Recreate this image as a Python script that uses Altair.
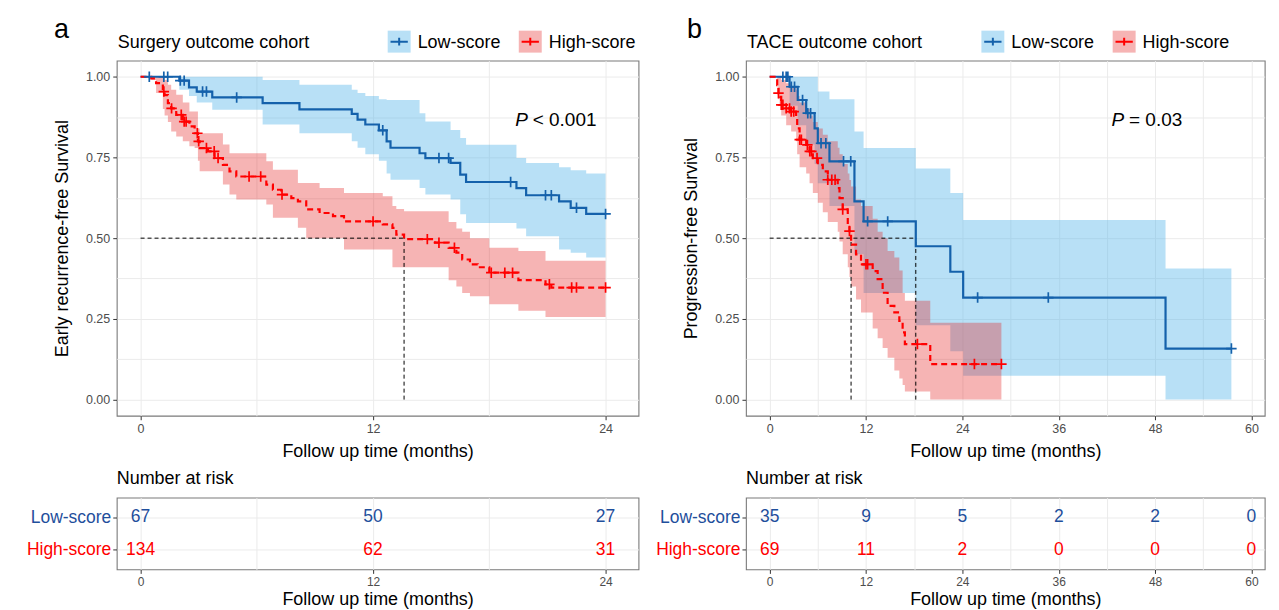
import altair as alt
import pandas as pd

FONT = "Liberation Sans"
GROUPS = ["Low-score", "High-score"]
LINE_COLORS = ["#1461ab", "#ff0000"]
TABLE_COLORS = ["#1f4f9c", "#ff0000"]
BAND_COLORS = ["#56B4E9", "#e41a1c"]
BAND_OPACITY = [0.42, 0.33]
CROSS = "M-1,0L1,0M0,-1L0,1"

# ---------------- panel a : Surgery outcome cohort ----------------
a_low_t = [0, 2.0, 2.5, 2.9, 3.7, 6.3, 8.2, 10.9, 11.2, 11.6, 12.3, 12.7, 12.9, 14.4, 14.7,
           16.0, 16.5, 16.8, 19.4, 19.9, 21.6, 22.2, 23.0, 24.0]
a_low_s = [1.0, 0.988, 0.967, 0.954, 0.936, 0.918, 0.899, 0.885, 0.867, 0.852, 0.834, 0.800,
           0.780, 0.763, 0.748, 0.733, 0.697, 0.674, 0.655, 0.633, 0.614, 0.594, 0.575, 0.575]
a_low_hi = [1.0, 1.0, 1.0, 1.0, 1.0, 0.99, 0.975, 0.96, 0.95, 0.94, 0.93, 0.928, 0.928, 0.887,
            0.861, 0.835, 0.81, 0.789, 0.748, 0.733, 0.72, 0.71, 0.70, 0.70]
a_low_lo = [1.0, 0.96, 0.94, 0.92, 0.898, 0.852, 0.825, 0.80, 0.78, 0.76, 0.74, 0.70, 0.681,
            0.655, 0.635, 0.62, 0.574, 0.547, 0.53, 0.506, 0.465, 0.455, 0.44, 0.44]
a_low_cens = [0.45, 1.2, 1.4, 2.05, 2.25, 3.2, 3.4, 4.96, 12.5, 15.4, 15.9, 19.1, 20.9, 21.2,
              22.5, 24.0]

a_high_t = [0, 0.55, 0.8, 1.15, 1.24, 1.41, 1.58, 1.84, 2.18, 2.52, 2.79, 2.96, 3.05, 3.48,
            3.82, 4.25, 4.59, 4.94, 6.49, 6.83, 7.26, 7.78, 8.12, 8.55, 9.24, 9.93, 10.5, 12.5,
            13.0, 13.2, 13.6, 15.2, 15.9, 16.3, 16.6, 17.0, 17.4, 18.0, 19.5, 20.9, 21.2, 24.0]
a_high_s = [1.0, 0.995, 0.98, 0.954, 0.943, 0.918, 0.902, 0.882, 0.861, 0.846, 0.825, 0.80,
            0.779, 0.769, 0.748, 0.727, 0.707, 0.691, 0.666, 0.65, 0.635, 0.624, 0.614, 0.589,
            0.578, 0.568, 0.552, 0.543, 0.532, 0.511, 0.497, 0.486, 0.47, 0.455, 0.434, 0.419,
            0.41, 0.393, 0.37, 0.357, 0.347, 0.347]
a_high_hi = [1.0, 1.0, 1.0, 1.0, 0.99, 0.975, 0.96, 0.944, 0.92, 0.892, 0.892, 0.84, 0.825,
             0.825, 0.825, 0.79, 0.763, 0.763, 0.738, 0.712, 0.712, 0.712, 0.671, 0.671, 0.655,
             0.655, 0.64, 0.63, 0.60, 0.59, 0.583, 0.583, 0.55, 0.53, 0.52, 0.50, 0.50, 0.47,
             0.46, 0.43, 0.43, 0.43]
a_high_lo = [1.0, 0.99, 0.95, 0.90, 0.88, 0.86, 0.83, 0.815, 0.80, 0.785, 0.779, 0.74, 0.707,
             0.707, 0.707, 0.666, 0.635, 0.62, 0.604, 0.563, 0.563, 0.563, 0.532, 0.50, 0.50,
             0.50, 0.465, 0.465, 0.41, 0.41, 0.41, 0.41, 0.37, 0.35, 0.33, 0.32, 0.32, 0.295,
             0.275, 0.256, 0.256, 0.256]
a_high_cens = [1.2, 1.6, 2.1, 2.25, 2.35, 2.93, 3.0, 3.4, 3.8, 4.0, 5.6, 6.2, 7.3, 12.0, 14.8,
               15.4, 16.2, 18.1, 18.8, 19.2, 21.1, 22.25, 22.5, 24.0]
a_median_x = [13.6]

a_risk_t = [0, 12, 24]
a_risk_low = [67, 50, 27]
a_risk_high = [134, 62, 31]

# ---------------- panel b : TACE outcome cohort ----------------
b_low_t = [0, 2.48, 3.5, 4.55, 5.6, 6.0, 7.45, 10.56, 11.7, 18.2, 22.5, 24.1, 49.3, 57.5]
b_low_s = [1.0, 0.969, 0.928, 0.887, 0.84, 0.794, 0.738, 0.614, 0.552, 0.475, 0.396, 0.316,
           0.158, 0.158]
b_low_hi = [1.0, 1.0, 1.0, 1.0, 1.0, 0.954, 0.93, 0.83, 0.779, 0.716, 0.64, 0.556, 0.406, 0.406]
b_low_lo = [1.0, 0.91, 0.85, 0.79, 0.73, 0.67, 0.60, 0.45, 0.33, 0.23, 0.15, 0.074, 0.0, 0.0]
b_low_cens = [1.65, 2.06, 2.27, 2.7, 3.1, 4.1, 4.75, 5.1, 6.4, 7.0, 9.2, 10.1, 12.2, 14.7, 25.9,
              34.7, 57.5]

b_high_t = [0, 0.94, 1.1, 1.24, 1.44, 2.06, 2.68, 3.3, 3.43, 3.73, 4.55, 4.97, 5.38, 6.0, 6.62,
            7.24, 8.48, 8.7, 9.1, 9.73, 9.94, 10.14, 10.76, 11.38, 12.83, 13.45, 14.07, 14.69,
            15.53, 16.15, 16.56, 16.84, 20.0, 28.86]
b_high_s = [1.0, 0.974, 0.949, 0.938, 0.913, 0.902, 0.892, 0.877, 0.84, 0.805, 0.789, 0.769,
            0.748, 0.727, 0.707, 0.681, 0.655, 0.624, 0.589, 0.542, 0.522, 0.48, 0.45, 0.419,
            0.398, 0.373, 0.331, 0.29, 0.27, 0.244, 0.208, 0.172, 0.11, 0.11]
b_high_hi = [1.0, 1.0, 1.0, 1.0, 0.99, 0.98, 0.97, 0.96, 0.94, 0.92, 0.90, 0.88, 0.86, 0.84,
             0.82, 0.80, 0.78, 0.76, 0.73, 0.70, 0.68, 0.66, 0.62, 0.60, 0.56, 0.52, 0.50,
             0.46, 0.44, 0.40, 0.33, 0.306, 0.238, 0.238]
b_high_lo = [1.0, 0.97, 0.93, 0.91, 0.88, 0.85, 0.83, 0.80, 0.76, 0.72, 0.70, 0.67, 0.64, 0.61,
             0.58, 0.55, 0.52, 0.49, 0.45, 0.41, 0.38, 0.35, 0.31, 0.27, 0.22, 0.19, 0.16, 0.13,
             0.09, 0.065, 0.045, 0.025, 0.0, 0.0]
b_high_cens = [1.1, 1.45, 1.65, 2.06, 2.48, 2.68, 3.0, 3.75, 3.95, 4.7, 5.0, 5.2, 5.9, 7.24,
               7.74, 8.15, 9.1, 9.94, 12.0, 12.2, 18.4, 25.5, 28.86]
b_median_x = [10.14, 18.2]

b_risk_t = [0, 12, 24, 36, 48, 60]
b_risk_low = [35, 9, 5, 2, 2, 0]
b_risk_high = [69, 11, 2, 0, 0, 0]


def step_value(ts, ss, t):
    v = ss[0]
    for ti, si in zip(ts, ss):
        if ti <= t:
            v = si
        else:
            break
    return v


def curve_df(ts, ss, hi, lo):
    return pd.DataFrame({"t": ts, "s": ss, "hi": hi, "lo": lo})


def censor_df(cens, ts, ss):
    return pd.DataFrame({"t": cens, "s": [step_value(ts, ss, c) for c in cens]})


def text_layer(txt, x, y, size, align="left", baseline="alphabetic", style="normal", color="black"):
    return alt.Chart(pd.DataFrame({"label": [txt]})).mark_text(
        font=FONT, fontSize=size, align=align, baseline=baseline, fontStyle=style, color=color
    ).encode(text="label:N", x=alt.value(x), y=alt.value(y))


def km_panel(curves, censors, xdom, xmax, med_x, width, letter, letter_x, title, ylab,
             leg_x, ptxt, p_x, rest_x):
    xs = alt.Scale(domain=xdom, nice=False, zero=False)
    ys = alt.Scale(domain=[-0.05, 1.05], nice=False, zero=False)
    xaxis = alt.Axis(
        values=list(range(0, xmax + 1, 6)),
        labelExpr="datum.value % 12 == 0 ? datum.label : ''",
        tickOpacity={"condition": {"test": "datum.value % 12 != 0", "value": 0}, "value": 1},
        title="Follow up time (months)", titlePadding=7, labelPadding=3)
    yaxis = alt.Axis(
        values=[i * 0.125 for i in range(9)],
        labelExpr="(datum.value * 4) % 1 == 0 ? format(datum.value, '.2f') : ''",
        tickOpacity={"condition": {"test": "(datum.value * 4) % 1 != 0", "value": 0}, "value": 1},
        title=ylab, titlePadding=14, labelPadding=3)
    X = alt.X("t:Q", scale=xs, axis=xaxis)
    layers = []
    for i in range(2):
        layers.append(alt.Chart(curves[i]).mark_area(
            interpolate="step-after", color=BAND_COLORS[i], opacity=BAND_OPACITY[i]
        ).encode(x=X, y=alt.Y("lo:Q", scale=ys, axis=yaxis), y2="hi:Q"))
    med_end = max(med_x)
    hdf = pd.DataFrame({"x0": [0.0], "x1": [med_end], "y": [0.5]})
    vdf = pd.DataFrame({"x": med_x, "y0": [0.0] * len(med_x), "y1": [0.5] * len(med_x)})
    layers.append(alt.Chart(hdf).mark_rule(color="black", strokeDash=[4, 3], strokeWidth=1)
                  .encode(x=alt.X("x0:Q", scale=xs, axis=xaxis), x2="x1:Q",
                          y=alt.Y("y:Q", scale=ys, axis=yaxis)))
    layers.append(alt.Chart(vdf).mark_rule(color="black", strokeDash=[4, 3], strokeWidth=1)
                  .encode(x=alt.X("x:Q", scale=xs, axis=xaxis),
                          y=alt.Y("y0:Q", scale=ys, axis=yaxis), y2="y1:Q"))
    for i in range(2):
        dash = [] if i == 0 else [6, 4]
        layers.append(alt.Chart(curves[i]).mark_line(
            interpolate="step-after", color=LINE_COLORS[i], strokeWidth=2.2, strokeDash=dash
        ).encode(x=X, y=alt.Y("s:Q", scale=ys, axis=yaxis)))
    for i in range(2):
        layers.append(alt.Chart(censors[i]).mark_point(
            shape=CROSS, size=110, filled=False, strokeWidth=1.7, color=LINE_COLORS[i], opacity=1
        ).encode(x=X, y=alt.Y("s:Q", scale=ys, axis=yaxis)))
    # header: letter, title, legend
    layers.append(text_layer(letter, letter_x, -31, 27, align="center", baseline="middle"))
    layers.append(text_layer(title, 1, -13, 18))
    for i, g in enumerate(GROUPS):
        x0 = leg_x[i]
        layers.append(alt.Chart(pd.DataFrame({"g": [g]})).mark_rect(
            color=BAND_COLORS[i], opacity=BAND_OPACITY[i]
        ).encode(x=alt.value(x0), x2=alt.value(x0 + 23), y=alt.value(-30), y2=alt.value(-8)))
        layers.append(alt.Chart(pd.DataFrame({"g": [g]})).mark_point(
            shape="M-1,0L1,0M0,-0.45L0,0.45", size=300, filled=False, strokeWidth=2,
            color=LINE_COLORS[i], opacity=1
        ).encode(x=alt.value(x0 + 11.5), y=alt.value(-19)))
        layers.append(text_layer(g, x0 + 30, -13, 18))
    layers.append(text_layer("P", p_x, 66, 19, style="italic"))
    layers.append(text_layer(ptxt, rest_x, 66, 19))
    return alt.layer(*layers).properties(width=width, height=356)


def risk_panel(ts, low, high, xdom, xmax, width):
    df = pd.DataFrame({
        "t": ts + ts,
        "group": [GROUPS[0]] * len(ts) + [GROUPS[1]] * len(ts),
        "n": low + high,
    })
    xs = alt.Scale(domain=xdom, nice=False, zero=False)
    xaxis = alt.Axis(
        values=list(range(0, xmax + 1, 6)),
        labelExpr="datum.value % 12 == 0 ? datum.label : ''",
        tickOpacity={"condition": {"test": "datum.value % 12 != 0", "value": 0}, "value": 1},
        title="Follow up time (months)", titlePadding=3, labelPadding=3, labelFontSize=12)
    yaxis = alt.Axis(
        title=None, labelFontSize=17.5, labelPadding=2, tickSize=4, labelColor={
            "condition": {"test": "datum.value == 'Low-score'", "value": TABLE_COLORS[0]},
            "value": TABLE_COLORS[1]})
    return alt.Chart(df).mark_text(font=FONT, fontSize=17.5).encode(
        x=alt.X("t:Q", scale=xs, axis=xaxis),
        y=alt.Y("group:N", scale=alt.Scale(type="point", domain=GROUPS, padding=0.6), axis=yaxis),
        text="n:Q",
        color=alt.Color("group:N", scale=alt.Scale(domain=GROUPS, range=TABLE_COLORS), legend=None),
    ).properties(width=width, height=72, title=alt.TitleParams(
        "Number at risk", anchor="start", frame="group", fontSize=18, fontWeight="normal",
        font=FONT, offset=10, color="black"))


a_curves = [curve_df(a_low_t, a_low_s, a_low_hi, a_low_lo),
            curve_df(a_high_t, a_high_s, a_high_hi, a_high_lo)]
a_cens = [censor_df(a_low_cens, a_low_t, a_low_s), censor_df(a_high_cens, a_high_t, a_high_s)]
b_curves = [curve_df(b_low_t, b_low_s, b_low_hi, b_low_lo),
            curve_df(b_high_t, b_high_s, b_high_hi, b_high_lo)]
b_cens = [censor_df(b_low_cens, b_low_t, b_low_s), censor_df(b_high_cens, b_high_t, b_high_s)]

A_DOM = [-1.23, 25.7]
B_DOM = [-2.95, 61.65]

km_a = km_panel(a_curves, a_cens, A_DOM, 24, a_median_x, 523, "a", -55.5,
                "Surgery outcome cohort", "Early recurrence-free Survival", [271.6, 403],
                "< 0.001", 399.5, 417)
km_b = km_panel(b_curves, b_cens, B_DOM, 60, b_median_x, 520, "b", -51.5,
                "TACE outcome cohort", "Progression-free Survival", [236, 367.6],
                "= 0.03", 366.5, 384)
risk_a = risk_panel(a_risk_t, a_risk_low, a_risk_high, A_DOM, 24, 523)
risk_b = risk_panel(b_risk_t, b_risk_low, b_risk_high, B_DOM, 60, 520)

chart = alt.concat(
    km_a, km_b, risk_a, risk_b, columns=2,
    spacing={"row": 82, "column": 107.7}, bounds="flush"
).properties(
    padding={"left": 17, "top": 6, "right": 5, "bottom": 0}
).configure(font=FONT).configure_view(
    stroke="#7a7a7a", strokeWidth=1.1
).configure_axis(
    domain=False, grid=True, gridColor="#ebebeb", gridWidth=1, tickColor="#333333",
    tickSize=4, labelFont=FONT, labelFontSize=12.5, labelColor="#4d4d4d", titleFont=FONT,
    titleFontSize=18, titleFontWeight="normal", titleColor="black"
)

chart.save("out.html", embed_options={"renderer": "svg", "actions": False})
